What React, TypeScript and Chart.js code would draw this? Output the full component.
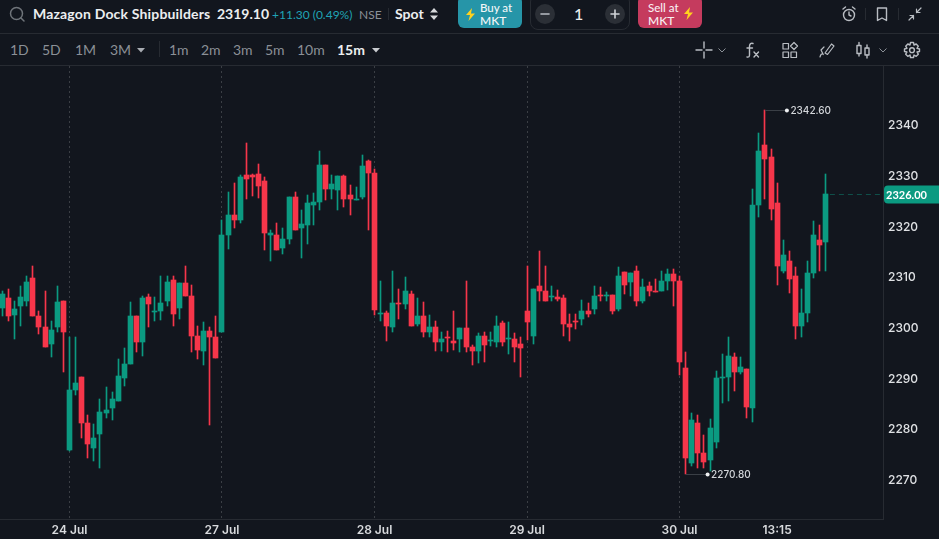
import React, { useEffect, useRef } from "react";
import { Chart, registerables } from "chart.js";

Chart.register(...registerables);

const opens = [
  2303.6,2305.6,2302.2,2304.0,2305.0,2309.5,2302.0,2299.9,2296.5,2299.9,
  2305.0,2275.6,2287.4,2290.0,2280.9,2276.0,2278.8,2282.9,2283.9,2285.3,
  2289.8,2292.6,2302.0,2296.9,2305.8,2302.9,2303.0,2305.0,2309.1,2303.6,
  2308.5,2306.0,2298.1,2295.1,2299.1,2297.9,2298.9,2318.0,2321.9,2321.0,
  2329.8,2329.8,2330.0,2328.6,2318.0,2318.0,2315.4,2317.2,2325.5,2319.4,
  2320.0,2323.9,2324.5,2331.8,2327.1,2326.9,2329.6,2325.9,2324.9,2325.5,
  2332.6,2330.2,2302.4,2302.6,2299.9,2304.6,2304.4,2306.4,2300.4,2302.0,
  2298.9,2299.9,2296.9,2297.9,2297.1,2297.5,2299.7,2295.9,2295.1,2298.1,
  2297.1,2296.9,2300.6,2297.5,2297.5,2296.5,2303.0,2298.1,2308.0,2307.0,
  2305.8,2305.8,2305.6,2300.5,2301.0,2301.4,2303.0,2303.4,2306.0,2306.0,
  2306.2,2303.4,2310.7,2308.7,2310.9,2305.0,2308.0,2307.0,2307.0,2309.0,
  2310.3,2309.0,2291.8,2273.0,2280.9,2275.0,2273.6,2277.2,2289.8,2290.0,
  2293.9,2291.0,2291.6,2283.9,2323.9,2335.8,2333.4,2324.3,2310.9,2312.9,
  2309.9,2300.1,2302.6,2310.5,2317.0,2316.6,
];
const highs = [
  2307.0,2307.4,2305.0,2308.0,2309.9,2311.9,2303.0,2307.0,2301.0,2308.0,
  2305.0,2297.9,2297.9,2290.0,2282.5,2280.7,2285.6,2288.0,2287.0,2293.5,
  2295.7,2304.8,2302.0,2306.0,2306.4,2305.8,2309.9,2309.9,2309.9,2308.5,
  2311.9,2308.1,2300.1,2300.8,2299.9,2302.0,2321.0,2326.5,2328.3,2329.8,
  2336.2,2330.0,2332.0,2329.4,2319.0,2320.4,2319.4,2325.5,2326.5,2322.9,
  2325.9,2326.3,2334.6,2331.8,2329.8,2329.6,2329.8,2327.9,2327.5,2333.8,
  2332.8,2331.0,2308.9,2303.0,2310.9,2307.4,2309.7,2307.0,2305.6,2304.8,
  2302.2,2301.0,2298.9,2299.1,2303.0,2299.7,2308.9,2296.3,2298.7,2298.9,
  2298.9,2302.0,2301.0,2300.8,2298.7,2297.9,2311.9,2307.4,2314.9,2311.9,
  2308.0,2307.2,2306.2,2302.4,2302.4,2305.2,2304.6,2308.0,2307.8,2306.8,
  2306.2,2311.7,2310.7,2310.5,2311.9,2309.3,2308.7,2309.3,2310.9,2311.3,
  2311.3,2309.9,2294.9,2282.9,2282.5,2278.6,2281.7,2291.2,2294.5,2297.9,
  2294.7,2293.9,2291.6,2327.1,2338.1,2342.6,2335.0,2328.3,2317.0,2314.8,
  2311.7,2307.4,2312.9,2320.8,2320.0,2330.0,
];
const lows = [
  2302.0,2301.0,2297.5,2300.1,2304.0,2302.0,2298.5,2295.9,2293.9,2298.9,
  2291.0,2275.4,2286.4,2278.0,2274.0,2273.4,2272.0,2281.9,2281.5,2285.3,
  2288.2,2292.6,2294.9,2294.1,2299.9,2301.0,2301.2,2304.0,2300.1,2301.4,
  2306.0,2294.9,2293.5,2292.4,2280.5,2293.7,2298.9,2315.2,2319.4,2320.4,
  2325.1,2325.7,2325.3,2315.0,2312.9,2315.0,2314.3,2316.2,2319.0,2313.5,
  2316.2,2320.0,2322.9,2324.9,2325.1,2322.9,2323.5,2321.9,2324.9,2325.1,
  2319.0,2302.2,2301.0,2297.1,2298.9,2301.4,2303.4,2300.1,2300.1,2297.9,
  2297.9,2295.1,2295.1,2294.9,2295.3,2294.9,2294.9,2292.4,2292.8,2292.9,
  2296.1,2295.9,2296.1,2294.5,2292.9,2290.0,2297.3,2296.5,2305.0,2305.0,
  2305.0,2305.0,2298.1,2297.1,2299.5,2300.2,2301.8,2302.4,2305.0,2305.0,
  2302.4,2303.0,2306.4,2306.0,2304.0,2304.6,2306.0,2306.8,2307.0,2307.2,
  2304.0,2290.4,2270.8,2272.4,2272.0,2272.0,2271.5,2276.0,2284.9,2285.3,
  2287.2,2290.6,2281.9,2281.1,2321.5,2325.1,2320.9,2308.1,2310.5,2306.6,
  2297.5,2297.9,2300.8,2309.5,2310.9,2310.9,
];
const closes = [
  2306.4,2302.0,2303.4,2305.8,2308.7,2302.0,2299.9,2295.9,2299.3,2304.8,
  2298.9,2287.4,2288.8,2280.9,2276.8,2278.0,2283.1,2283.5,2285.6,2290.2,
  2292.6,2302.0,2296.9,2305.6,2304.4,2303.0,2304.6,2308.7,2302.4,2308.5,
  2306.0,2298.1,2295.3,2299.1,2297.9,2293.7,2318.0,2321.9,2321.0,2329.4,
  2329.0,2329.4,2327.7,2318.4,2318.4,2315.0,2317.2,2325.5,2319.0,2320.2,
  2324.3,2324.5,2331.8,2327.1,2328.1,2329.6,2325.1,2325.1,2325.1,2331.6,
  2330.2,2303.2,2302.6,2300.1,2304.6,2304.4,2307.0,2300.1,2302.0,2298.9,
  2299.9,2296.9,2297.5,2297.7,2296.7,2299.7,2295.9,2295.1,2298.1,2296.3,
  2297.3,2300.1,2296.9,2297.7,2295.9,2295.7,2300.8,2307.4,2307.0,2305.0,
  2306.0,2305.4,2300.5,2299.9,2300.8,2303.0,2302.4,2306.0,2305.9,2306.2,
  2303.0,2309.9,2308.1,2310.5,2305.0,2307.8,2307.0,2306.8,2309.0,2310.3,
  2309.0,2293.0,2274.0,2281.5,2275.0,2273.2,2279.9,2289.8,2290.0,2294.1,
  2291.0,2292.0,2284.1,2323.9,2334.6,2333.0,2323.1,2311.9,2314.1,2309.3,
  2300.1,2302.6,2310.5,2318.0,2316.0,2326.0,
];

const timeTickIndexes = [11, 36, 61, 86, 111, 127];
const timeTickLabels = ["24 Jul", "27 Jul", "28 Jul", "29 Jul", "30 Jul", "13:15"];
const dayStartIndexes = [11, 36, 61, 86, 111];
const priceTicks = [2270, 2280, 2290, 2300, 2310, 2320, 2330, 2340];

const BG = "#12161e";
const UP = "#0b9a81";
const DOWN = "#f6364a";
const LINE = "#272b32";
const FONT = "Inter, sans-serif";

const pixelSnap = {
  id: "pixelSnap",
  beforeDatasetsDraw(chart: any) {
    chart.data.datasets.forEach((_: any, i: number) => {
      chart.getDatasetMeta(i).data.forEach((el: any) => {
        el.x = Math.floor(el.x) + 0.5;
        const a = Math.round(Math.min(el.y, el.base));
        const b = Math.round(Math.max(el.y, el.base));
        el.y = a;
        el.base = b === a ? a + 1 : b;
      });
    });
  },
};

const overlays = {
  id: "overlays",
  afterDatasetsDraw(chart: any) {
    const { ctx, scales, chartArea } = chart;
    const xs = scales.x;
    const ys = scales.y;
    ctx.save();

    const marker = (values: number[], pick: number, textValue: string) => {
      const idx = values.indexOf(pick);
      const y = Math.round(ys.getPixelForValue(pick)) + 0.5;
      const x0 = xs.getPixelForValue(idx);
      const x1 = x0 + 22;
      ctx.strokeStyle = "#3a3f46";
      ctx.lineWidth = 1;
      ctx.beginPath();
      ctx.moveTo(x0, y);
      ctx.lineTo(x1, y);
      ctx.stroke();
      ctx.fillStyle = "#eef0f2";
      ctx.beginPath();
      ctx.arc(x1, y, 2, 0, Math.PI * 2);
      ctx.fill();
      ctx.font = `500 10px ${FONT}`;
      ctx.fillStyle = "#d3d6da";
      ctx.textAlign = "left";
      ctx.textBaseline = "middle";
      ctx.fillText(textValue, x1 + 3.5, y + 0.5);
    };
    const hi = Math.max(...highs);
    const lo = Math.min(...lows);
    marker(highs, hi, hi.toFixed(2));
    marker(lows, lo, lo.toFixed(2));

    const lastIndex = closes.length - 1;
    const last = closes[lastIndex];
    const ly = Math.round(ys.getPixelForValue(last)) + 0.5;
    ctx.strokeStyle = "#0f4f49";
    ctx.setLineDash([5, 4]);
    ctx.beginPath();
    ctx.moveTo(xs.getPixelForValue(lastIndex) + 4, ly);
    ctx.lineTo(chartArea.right, ly);
    ctx.stroke();
    ctx.setLineDash([]);

    ctx.fillStyle = UP;
    ctx.beginPath();
    ctx.roundRect(chartArea.right + 1, ly - 9, 56, 18, [4, 0, 0, 4]);
    ctx.fill();
    ctx.font = `700 11px Lato, sans-serif`;
    ctx.fillStyle = "#ffffff";
    ctx.textAlign = "left";
    ctx.textBaseline = "middle";
    ctx.fillText(last.toFixed(2), chartArea.right + 3, ly + 0.5);
    ctx.restore();
  },
};

function T({ x, y, size = 14, weight = 400, color = "#8b9097", spacing = 0, children }: any) {
  return (
    <span
      style={{
        position: "absolute",
        left: x,
        top: y,
        fontFamily: "Lato, sans-serif",
        fontSize: size,
        fontWeight: weight,
        letterSpacing: spacing,
        color,
        lineHeight: "16px",
        whiteSpace: "nowrap",
      }}
    >
      {children}
    </span>
  );
}

function Box({ x, y, w, h, style }: any) {
  return <div style={{ position: "absolute", left: x, top: y, width: w, height: h, ...style }} />;
}

function Icon({ x, y, size = 18, stroke = "#b9bdc3", sw = 1.4, children }: any) {
  return (
    <svg
      style={{ position: "absolute", left: x, top: y }}
      width={size}
      height={size}
      viewBox="0 0 18 18"
      fill="none"
      stroke={stroke}
      strokeWidth={sw}
      strokeLinecap="round"
      strokeLinejoin="round"
    >
      {children}
    </svg>
  );
}

const Bolt = ({ x, y }: any) => (
  <svg style={{ position: "absolute", left: x, top: y }} width="11" height="13" viewBox="0 0 11 13">
    <path d="M7 0 L1 7 H5 L3.5 13 L10 5.5 H6 Z" fill="#ffd21e" />
  </svg>
);

const Caret = ({ x, y, color = "#a9adb3" }: any) => (
  <svg style={{ position: "absolute", left: x, top: y }} width="8" height="5" viewBox="0 0 8 5">
    <path d="M0 0 H8 L4 4.5 Z" fill={color} />
  </svg>
);

const Chevron = ({ x, y }: any) => (
  <svg style={{ position: "absolute", left: x, top: y }} width="8" height="5" viewBox="0 0 8 5" fill="none" stroke="#8b9097" strokeWidth="1">
    <path d="M0.5 0.5 L4 4 L7.5 0.5" />
  </svg>
);

function Header() {
  const grey = "#8b9097";
  return (
    <>
      <Icon x={8} y={5} stroke="#6f747a" sw={1.5}>
        <circle cx="8.5" cy="8.5" r="6" />
        <path d="M13 13 L16 16" />
      </Icon>
      <T x={33} y={6} weight={700} color="#eceef0" spacing={0.17}>Mazagon Dock Shipbuilders</T>
      <T x={217} y={6} weight={700} color="#eceef0">2319.10</T>
      <T x={272} y={7} size={12} color="#1fa3b5">+11.30 (0.49%)</T>
      <T x={359} y={7} size={12} color={grey}>NSE</T>
      <Box x={388} y={8} w={1} h={12} style={{ background: LINE }} />
      <T x={395} y={6} weight={700} color="#eceef0">Spot</T>
      <svg style={{ position: "absolute", left: 430, top: 8 }} width="8" height="12" viewBox="0 0 8 12">
        <path d="M0 4.5 L4 0 L8 4.5 Z M0 7.5 L4 12 L8 7.5 Z" fill="#d7d9dc" />
      </svg>

      <Box x={458} y={-4} w={64} h={31.5} style={{ background: "#2695a8", borderRadius: 6 }} />
      <Bolt x={465} y={8} />
      <T x={480} y={0} size={11.5} weight={500} color="#f2f6f7">Buy at</T>
      <T x={480} y={13} size={12} weight={500} color="#f2f6f7">MKT</T>

      <Box x={530} y={-6} w={98} h={34} style={{ border: `1px solid ${LINE}`, borderRadius: 8 }} />
      <Box x={535} y={4} w={20} h={20} style={{ background: "#2b2f36", borderRadius: "50%" }} />
      <Icon x={536} y={5} stroke="#b9bdc3" sw={1.6}>
        <path d="M5 9 H13" />
      </Icon>
      <T x={574} y={6} size={16} weight={500} color="#eceef0">1</T>
      <Box x={605} y={4} w={20} h={20} style={{ background: "#2b2f36", borderRadius: "50%" }} />
      <Icon x={606} y={5} stroke="#d0d3d7" sw={1.6}>
        <path d="M5 9 H13 M9 5 V13" />
      </Icon>

      <Box x={638} y={-4} w={64} h={31.5} style={{ background: "#c53b5e", borderRadius: 6 }} />
      <T x={648} y={0} size={11.5} weight={500} color="#f8eef1">Sell at</T>
      <T x={648} y={13} size={12} weight={500} color="#f8eef1">MKT</T>
      <Bolt x={683} y={7} />

      <Icon x={840} y={5}>
        <circle cx="9" cy="10" r="5.5" />
        <path d="M9 7 V10 L11 11 M3 4 L5.5 2 M15 4 L12.5 2" />
      </Icon>
      <Box x={865} y={8} w={1} h={12} style={{ background: LINE }} />
      <Icon x={873} y={5}>
        <path d="M4.5 3 H13.5 V15.5 L9 13 L4.5 15.5 Z" />
      </Icon>
      <Box x={898} y={8} w={1} h={12} style={{ background: LINE }} />
      <Icon x={906} y={5} sw={1.2}>
        <path d="M15 3 L10.5 7.5 M10.5 4 V7.5 H14 M3 15 L7.5 10.5 M4 10.5 H7.5 V14" />
      </Icon>

      <Box x={0} y={33} w={939} h={1} style={{ background: LINE }} />
      <Box x={0} y={65} w={939} h={1} style={{ background: LINE }} />

      <T x={10} y={42}>1D</T>
      <T x={42} y={42}>5D</T>
      <T x={75} y={42}>1M</T>
      <T x={110} y={42}>3M</T>
      <Caret x={137} y={48} />
      <Box x={159} y={41} w={1} h={16} style={{ background: LINE }} />
      <T x={169} y={42}>1m</T>
      <T x={201} y={42}>2m</T>
      <T x={233} y={42}>3m</T>
      <T x={265} y={42}>5m</T>
      <T x={297} y={42}>10m</T>
      <T x={337} y={42} weight={700} color="#eceef0">15m</T>
      <Caret x={372} y={48} color="#c9ccd0" />

      <Icon x={695} y={41}>
        <path d="M1 9 H7 M11 9 H17 M9 1 V7 M9 11 V17" />
      </Icon>
      <Chevron x={718} y={48} />
      <Icon x={743} y={41}>
        <path d="M10 2.5 Q7 1.5 6.5 5 V14 Q6.5 16.5 4 16 M4 7 H9.5 M11 11 L15.5 16 M15.5 11 L11 16" />
      </Icon>
      <Icon x={781} y={41} sw={1.2}>
        <rect x="2" y="2.5" width="5.5" height="5.5" />
        <path d="M13 1.5 L16.5 5 L13 8.5 L9.5 5 Z" />
        <rect x="2" y="11" width="5.5" height="5.5" />
        <rect x="10" y="11" width="5.5" height="5.5" />
      </Icon>
      <Icon x={818} y={41} sw={1.2}>
        <path d="M7 12 L13.5 3 L16 5 L9.5 13.5 Z M2 16 Q3 12 5 13 Q6 15 3 9 L6 6" />
      </Icon>
      <Icon x={854} y={41} sw={1.4}>
        <rect x="3" y="4.5" width="4" height="8" />
        <path d="M5 1.5 V4.5 M5 12.5 V15" />
        <rect x="11" y="7" width="4" height="7" />
        <path d="M13 4 V7 M13 14 V17" />
      </Icon>
      <Chevron x={879} y={48} />
      <Icon x={903} y={41} sw={1.4}>
        <path d="M7.5 1.5 H10.5 L11 4 L13.2 3 L15.3 5.2 L14 7.3 L16.5 8 V10.5 L14 11 L15.3 13.2 L13.2 15.3 L11 14 L10.5 16.5 H7.5 L7 14 L4.8 15.3 L2.7 13.2 L4 11 L1.5 10.5 V8 L4 7.3 L2.7 5.2 L4.8 3 L7 4 Z" />
        <circle cx="9" cy="9.2" r="2.4" />
      </Icon>
    </>
  );
}

export default function App() {
  const ref = useRef<HTMLCanvasElement>(null);

  useEffect(() => {
    const idx = closes.map((_, i) => i);
    const colors = closes.map((c, i) => (c >= opens[i] ? UP : DOWN));
    const noPadding = (scale: any) => {
      scale.paddingTop = 0;
      scale.paddingBottom = 0;
      scale.paddingLeft = 0;
      scale.paddingRight = 0;
    };
    const chart = new Chart(ref.current as HTMLCanvasElement, {
      type: "bar",
      data: {
        datasets: [
          {
            label: "Body",
            data: idx.map((i) => ({ x: i, y: [opens[i], closes[i]] })) as any,
            backgroundColor: colors,
            barThickness: 5,
            minBarLength: 1,
            grouped: false,
            order: 1,
          },
          {
            label: "Wick",
            data: idx.map((i) => ({ x: i, y: [lows[i], highs[i]] })) as any,
            backgroundColor: colors,
            barThickness: 1,
            grouped: false,
            order: 2,
          },
        ],
      },
      options: {
        animation: false,
        responsive: false,
        devicePixelRatio: 1,
        layout: { padding: 0, autoPadding: false },
        plugins: { legend: { display: false }, tooltip: { enabled: false } },
        scales: {
          x: {
            type: "linear",
            offset: false,
            bounds: "data",
            min: -0.393,
            max: 144.36,
            afterBuildTicks: (scale: any) => {
              scale.ticks = timeTickIndexes.map((value) => ({ value }));
            },
            afterFit: (scale: any) => {
              scale.height = 20;
              noPadding(scale);
            },
            ticks: {
              autoSkip: false,
              maxRotation: 0,
              padding: 4,
              color: "#d8dadd",
              font: { family: FONT, size: 12, weight: 600 },
              callback: (value: any) => timeTickLabels[timeTickIndexes.indexOf(Number(value))],
            },
            grid: {
              offset: false,
              drawTicks: false,
              lineWidth: 1,
              color: (c: any) => (dayStartIndexes.includes(c.tick?.value) ? "#3b3f45" : "transparent"),
            },
            border: { color: LINE, dash: [2, 3] },
          },
          y: {
            type: "linear",
            position: "right",
            bounds: "data",
            min: 2262.0,
            max: 2351.34,
            afterBuildTicks: (scale: any) => {
              scale.ticks = priceTicks.map((value) => ({ value }));
            },
            afterFit: (scale: any) => {
              scale.width = 56;
              noPadding(scale);
            },
            ticks: {
              padding: 5,
              labelOffset: 2,
              color: "#dfe1e4",
              font: { family: FONT, size: 12, weight: 500 },
              callback: (value: any) => String(value),
            },
            grid: { display: false, drawTicks: false },
            border: { color: LINE },
          },
        },
      },
      plugins: [pixelSnap, overlays],
    });
    return () => chart.destroy();
  }, []);

  return (
    <div style={{ position: "fixed", left: 0, top: 0, width: 939, height: 539, background: BG, overflow: "hidden" }}>
      <Header />
      <canvas ref={ref} width={939} height={473} style={{ position: "absolute", left: 0, top: 66, display: "block" }} />
    </div>
  );
}
